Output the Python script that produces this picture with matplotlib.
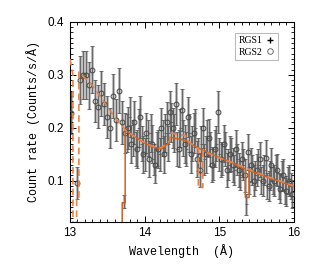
import numpy as np
import matplotlib
matplotlib.use("Agg")
import matplotlib.pyplot as plt
from matplotlib.lines import Line2D
from matplotlib.ticker import MultipleLocator

# ---- RGS2 data (circles) ----
rgs2_x = [13.01, 13.10, 13.14, 13.18, 13.22, 13.26, 13.30, 13.34, 13.38, 13.42,
          13.46, 13.50, 13.54, 13.58, 13.62, 13.66, 13.70, 13.74, 13.78, 13.82,
          13.86, 13.90, 13.94, 13.98, 14.02, 14.06, 14.10, 14.14, 14.18, 14.22,
          14.26, 14.30, 14.34, 14.38, 14.42, 14.46, 14.50, 14.54, 14.58, 14.62,
          14.66, 14.70, 14.74, 14.78, 14.82, 14.86, 14.90, 14.94, 14.98, 15.02,
          15.06, 15.10, 15.14, 15.18, 15.22, 15.26, 15.30, 15.34, 15.38, 15.42,
          15.46, 15.50, 15.54, 15.58, 15.62, 15.66, 15.70, 15.74, 15.78, 15.82,
          15.86, 15.90, 15.94, 15.98]
rgs2_y = [0.228, 0.096, 0.290, 0.300, 0.300, 0.280, 0.310, 0.250, 0.240, 0.265,
          0.245, 0.220, 0.200, 0.260, 0.215, 0.270, 0.210, 0.190, 0.200, 0.170,
          0.210, 0.160, 0.220, 0.150, 0.190, 0.140, 0.170, 0.130, 0.160, 0.200,
          0.150, 0.210, 0.230, 0.200, 0.245, 0.160, 0.233, 0.170, 0.220, 0.150,
          0.190, 0.140, 0.120, 0.200, 0.150, 0.180, 0.130, 0.160, 0.230, 0.140,
          0.170, 0.120, 0.150, 0.130, 0.160, 0.120, 0.140, 0.110, 0.155, 0.130,
          0.100, 0.120, 0.140, 0.100, 0.143, 0.090, 0.130, 0.100, 0.120, 0.085,
          0.110, 0.080, 0.100, 0.075]
rgs2_err = [0.040, 0.030, 0.045, 0.045, 0.045, 0.045, 0.045, 0.040, 0.040, 0.042,
            0.040, 0.040, 0.038, 0.042, 0.040, 0.042, 0.040, 0.038, 0.040, 0.036,
            0.040, 0.036, 0.040, 0.035, 0.038, 0.034, 0.036, 0.034, 0.036, 0.038,
            0.035, 0.038, 0.040, 0.038, 0.040, 0.035, 0.040, 0.036, 0.038, 0.035,
            0.037, 0.034, 0.032, 0.038, 0.035, 0.036, 0.033, 0.035, 0.040, 0.033,
            0.035, 0.032, 0.034, 0.032, 0.035, 0.032, 0.033, 0.031, 0.034, 0.032,
            0.030, 0.031, 0.033, 0.030, 0.033, 0.029, 0.031, 0.030, 0.031, 0.028,
            0.030, 0.028, 0.029, 0.027]

# ---- RGS1 data (crosses) ----
rgs1_x = [13.72, 13.76, 13.80, 13.84, 13.88, 13.92, 13.96, 14.00, 14.04, 14.08,
          14.12, 14.16, 14.20, 14.24, 14.28, 14.32, 14.36, 14.40, 14.44, 14.48,
          14.52, 14.56, 14.60, 14.64, 14.68, 14.72, 14.76, 14.80, 14.84, 14.88,
          14.92, 14.96, 15.00, 15.04, 15.08, 15.12, 15.16, 15.20, 15.24, 15.28,
          15.32, 15.36, 15.40, 15.44, 15.48, 15.52, 15.56, 15.60, 15.64, 15.68,
          15.72, 15.76, 15.80, 15.84, 15.88, 15.92, 15.96]
rgs1_y = [0.060, 0.190, 0.220, 0.180, 0.160, 0.200, 0.170, 0.150, 0.180, 0.190,
          0.140, 0.160, 0.150, 0.180, 0.190, 0.170, 0.210, 0.190, 0.160, 0.200,
          0.180, 0.160, 0.190, 0.170, 0.200, 0.150, 0.170, 0.140, 0.180, 0.160,
          0.130, 0.170, 0.150, 0.140, 0.160, 0.130, 0.150, 0.120, 0.140, 0.110,
          0.130, 0.055, 0.100, 0.120, 0.110, 0.130, 0.100, 0.120, 0.090, 0.110,
          0.100, 0.120, 0.090, 0.110, 0.080, 0.100, 0.090]
rgs1_err = [0.012, 0.035, 0.038, 0.034, 0.032, 0.036, 0.033, 0.031, 0.034, 0.035,
            0.030, 0.032, 0.031, 0.034, 0.035, 0.033, 0.037, 0.035, 0.032, 0.036,
            0.034, 0.032, 0.035, 0.033, 0.036, 0.031, 0.033, 0.030, 0.034, 0.032,
            0.029, 0.033, 0.031, 0.030, 0.032, 0.029, 0.031, 0.028, 0.030, 0.027,
            0.029, 0.020, 0.026, 0.028, 0.027, 0.029, 0.026, 0.028, 0.025, 0.027,
            0.026, 0.028, 0.025, 0.027, 0.024, 0.026, 0.025]

# ---- Model curves ----
mod2_x = [13.00, 13.04, 13.04, 13.09, 13.09, 13.12, 13.12, 13.30, 13.50, 13.65,
          13.75, 13.90, 14.00, 14.10, 14.22, 14.30, 14.34, 14.34, 14.55, 14.55,
          14.72, 14.72, 14.78, 14.78, 15.00, 15.20, 15.40, 15.60, 15.80, 16.00]
mod2_y = [0.330, 0.300, 0.000, 0.000, 0.064, 0.064, 0.305, 0.280, 0.240, 0.210,
          0.195, 0.180, 0.172, 0.165, 0.162, 0.170, 0.176, 0.190, 0.185, 0.178,
          0.160, 0.087, 0.087, 0.156, 0.143, 0.133, 0.121, 0.110, 0.100, 0.090]
mod1_x = [13.70, 13.70, 13.74, 13.74, 13.90, 14.00, 14.10, 14.22, 14.30, 14.34,
          14.34, 14.55, 14.70, 14.90, 15.10, 15.35, 15.35, 15.40, 15.40, 15.60,
          15.80, 16.00]
mod1_y = [0.000, 0.058, 0.058, 0.195, 0.180, 0.171, 0.164, 0.160, 0.168, 0.174,
          0.182, 0.176, 0.163, 0.150, 0.138, 0.122, 0.068, 0.068, 0.119, 0.109,
          0.099, 0.089]

fig = plt.figure(figsize=(3.15, 2.67), dpi=100)
ax = fig.add_axes([0.222, 0.169, 0.711, 0.749])

# wide light-gray bands behind thin dark error bars
for xs, ys, es in ((rgs1_x, rgs1_y, rgs1_err), (rgs2_x, rgs2_y, rgs2_err)):
    ax.errorbar(xs, ys, yerr=es, fmt='none', ecolor='#bdbdbd',
                elinewidth=2.2, capsize=0, zorder=1)
    ax.errorbar(xs, ys, yerr=es, fmt='none', ecolor='#5a5a5a',
                elinewidth=0.6, capsize=1.3, capthick=0.6, zorder=2)
ax.errorbar(rgs1_x, rgs1_y, xerr=0.02, fmt='none', ecolor='#5a5a5a',
            elinewidth=0.6, capsize=0, zorder=2)
ax.plot(rgs2_x, rgs2_y, 'o', ms=3.5, mfc='none', mec='#444444', mew=0.7, zorder=3)

ax.plot(mod1_x, mod1_y, '-', color='#d4601e', lw=1.1, zorder=4)
ax.plot(mod2_x, mod2_y, '--', color='#e8844a', lw=1.2, dashes=(4, 2.5), zorder=4)

ax.set_xlim(13, 16)
ax.set_ylim(0.022, 0.4)
ax.xaxis.set_major_locator(MultipleLocator(1))
ax.xaxis.set_minor_locator(MultipleLocator(0.1))
ax.yaxis.set_major_locator(MultipleLocator(0.1))
ax.yaxis.set_minor_locator(MultipleLocator(0.01))
ax.tick_params(which='both', direction='in', top=True, right=True)
ax.tick_params(which='major', length=4, width=0.7, labelsize=8.5, pad=4)
ax.tick_params(which='minor', length=2, width=0.6)
for lab in ax.get_xticklabels() + ax.get_yticklabels():
    lab.set_family('Liberation Sans')
for sp in ax.spines.values():
    sp.set_linewidth(0.8)

ax.set_xlabel('Wavelength  (Å)', family='Liberation Mono', fontsize=8.5, labelpad=3)
ax.set_ylabel('Count rate (Counts/s/Å)', family='Liberation Mono', fontsize=8.5, labelpad=6)

handles = [Line2D([], [], ls='none', marker='+', color='k', ms=5, mew=1.0),
           Line2D([], [], ls='none', marker='o', mfc='none', mec='#555555', ms=4, mew=0.6)]
leg = ax.legend(handles, ['RGS1', 'RGS2'], loc='upper right', markerfirst=False,
                prop={'family': 'Liberation Serif', 'size': 7}, frameon=True,
                fancybox=False, handlelength=0.9, handletextpad=0.4,
                borderpad=0.35, labelspacing=0.25, borderaxespad=0.7,
                bbox_to_anchor=(0.96, 0.98))
leg.get_frame().set_edgecolor('#aaaaaa')
leg.get_frame().set_linewidth(0.8)

fig.savefig('out.png', dpi=100)
